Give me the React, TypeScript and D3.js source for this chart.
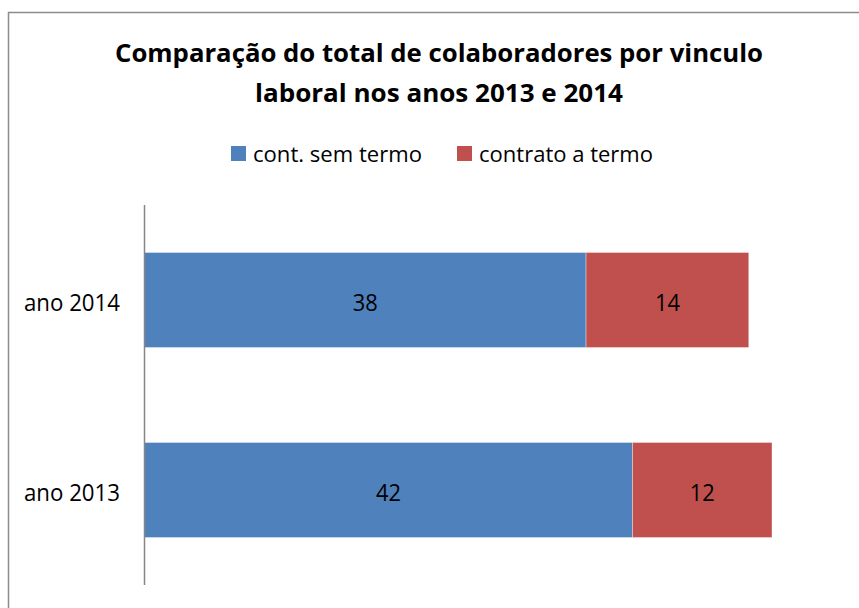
import React, { useEffect, useRef } from "react";
import * as d3 from "d3";

const categories = ["ano 2014", "ano 2013"];
const semTermo = [38, 42];
const aTermo = [14, 12];
const seriesNames = ["cont. sem termo", "contrato a termo"];
const seriesColors = ["#4F81BD", "#C0504D"];
const titleLines = [
  "Comparação do total de colaboradores por vinculo",
  "laboral nos anos 2013 e 2014",
];

const FONT = '"Open Sans", "Noto Sans", sans-serif';

const App = () => {
  const svgRef = useRef<SVGSVGElement>(null);

  useEffect(() => {
    if (!svgRef.current) return;
    const width = 859;
    const height = 608;

    const svg = d3.select(svgRef.current).attr("width", width).attr("height", height);
    svg.selectAll("*").remove();

    // chart frame (runs off the right and bottom edges)
    svg
      .append("rect")
      .attr("x", 8.5)
      .attr("y", 12.5)
      .attr("width", 900)
      .attr("height", 700)
      .attr("fill", "white")
      .attr("stroke", "#8c8c8c")
      .attr("stroke-width", 1.5);

    // title
    const titleY = [62, 102];
    const titleLen = [648, 368];
    titleLines.forEach((t, i) => {
      svg
        .append("text")
        .attr("x", 439)
        .attr("y", titleY[i])
        .attr("text-anchor", "middle")
        .attr("textLength", titleLen[i])
        .attr("lengthAdjust", "spacingAndGlyphs")
        .style("font-family", FONT)
        .style("font-weight", "bold")
        .style("font-size", "25px")
        .attr("fill", "#000")
        .text(t);
    });

    // legend
    const legendX = [231, 457];
    const legendLen = [169, 174];
    seriesNames.forEach((name, i) => {
      svg
        .append("rect")
        .attr("x", legendX[i])
        .attr("y", 146)
        .attr("width", 15)
        .attr("height", 15)
        .attr("fill", seriesColors[i]);
      svg
        .append("text")
        .attr("x", legendX[i] + 22)
        .attr("y", 162)
        .attr("textLength", legendLen[i])
        .attr("lengthAdjust", "spacingAndGlyphs")
        .style("font-family", FONT)
        .style("font-size", "22px")
        .attr("fill", "#000")
        .text(name);
    });

    // scales
    const x = d3.scaleLinear().domain([0, 60]).range([144.5, 841.7]);
    const y = d3
      .scaleBand<string>()
      .domain(categories)
      .range([205, 585])
      .paddingInner(0.5)
      .paddingOuter(0.25);

    const rows = categories.map((c, i) => ({
      cat: c,
      segs: [
        { start: 0, value: semTermo[i], color: seriesColors[0] },
        { start: semTermo[i], value: aTermo[i], color: seriesColors[1] },
      ],
    }));

    const g = svg.append("g");
    rows.forEach((r) => {
      r.segs.forEach((s) => {
        const x0 = x(s.start);
        const x1 = x(s.start + s.value);
        g.append("rect")
          .attr("x", x0)
          .attr("y", y(r.cat)!)
          .attr("width", x1 - x0)
          .attr("height", y.bandwidth())
          .attr("fill", s.color)
          .attr("stroke", "rgba(255,255,255,0.35)")
          .attr("stroke-width", 1);
        g.append("text")
          .attr("x", (x0 + x1) / 2)
          .attr("y", y(r.cat)! + y.bandwidth() / 2 + 11)
          .attr("text-anchor", "middle")
          .attr("textLength", 25)
          .attr("lengthAdjust", "spacingAndGlyphs")
          .style("font-family", FONT)
          .style("font-size", "23px")
          .attr("fill", "#000")
          .text(s.value);
      });
    });

    // category axis
    g.append("line")
      .attr("x1", 144.5)
      .attr("x2", 144.5)
      .attr("y1", 205)
      .attr("y2", 585)
      .attr("stroke", "#868686")
      .attr("stroke-width", 1.5);

    categories.forEach((c) => {
      g.append("text")
        .attr("x", 120)
        .attr("y", y(c)! + y.bandwidth() / 2 + 11)
        .attr("text-anchor", "end")
        .attr("textLength", 96)
        .attr("lengthAdjust", "spacingAndGlyphs")
        .style("font-family", FONT)
        .style("font-size", "23px")
        .attr("fill", "#000")
        .text(c);
    });
  }, []);

  return (
    <div style={{ position: "absolute", left: 0, top: 0 }}>
      <svg ref={svgRef} style={{ display: "block" }}></svg>
    </div>
  );
};

export default App;
